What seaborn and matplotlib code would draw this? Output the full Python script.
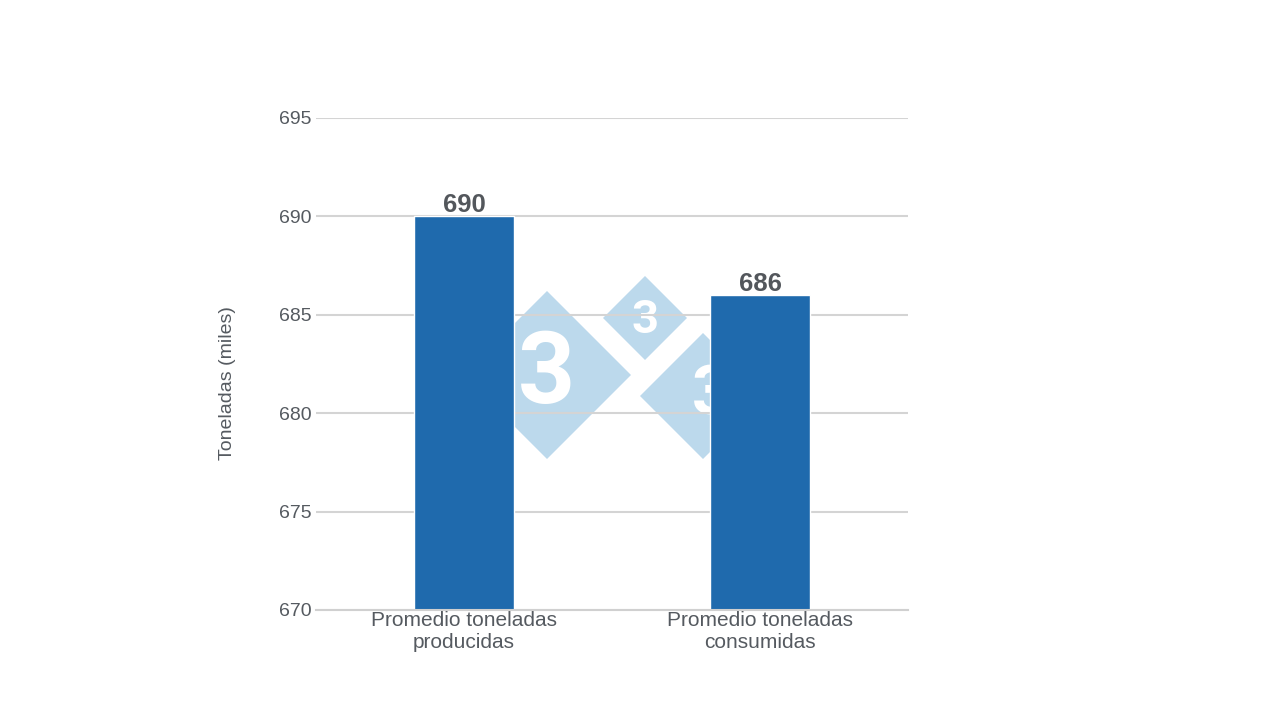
import matplotlib
matplotlib.use("Agg")
import matplotlib.pyplot as plt
import seaborn as sns
import pandas as pd
from matplotlib.patches import Polygon

categories = ["Promedio toneladas\nproducidas", "Promedio toneladas\nconsumidas"]
values = [690, 686]
yticks = [670, 675, 680, 685, 690, 695]

sns.set_theme(style="white")
plt.rcParams['font.family'] = ['Liberation Sans', 'DejaVu Sans']

df = pd.DataFrame({"cat": categories, "val": values})

fig = plt.figure(figsize=(12.8, 7.2), dpi=100)
ax = fig.add_axes([316/1280, 1-610/720, (908-316)/1280, (610-118)/720])
ax.patch.set_visible(False)

ax.set_ylim(670, 695)
ax.set_yticks(yticks)
ax.yaxis.grid(True, color="#d4d4d4", linewidth=1.5)
ax.set_axisbelow(True)

sns.barplot(data=df, x="cat", y="val", color="#1f6aad", width=0.335,
            ax=ax, saturation=1)
ax.set_ylim(670, 695)
ax.set_xlim(-0.5, 1.5)

for p, v in zip(ax.patches, values):
    ax.text(p.get_x() + p.get_width()/2, v - 0.05, f"{v}", ha="center", va="bottom",
            fontsize=18.5, fontweight="bold", color="#53575c")

ax.set_xlabel("")
ax.set_ylabel("")
for s in ["top", "right", "left"]:
    ax.spines[s].set_visible(False)
ax.spines["bottom"].set_color("#d0d0d0")
ax.spines["bottom"].set_linewidth(1.5)
ax.tick_params(axis="y", length=0, labelsize=14, labelcolor="#555a60", pad=3)
ax.tick_params(axis="x", length=0, labelsize=15, labelcolor="#555a60", pad=1)
for lab in ax.get_xticklabels():
    lab.set_linespacing(1.2)

fig.text(228/1280, 1-383/720, "Toneladas (miles)", rotation=90, ha="center", va="center",
         fontsize=14, color="#555a60")

# watermark logo (behind the chart marks)
def diamond(cx, cy, r, fs, tx, ty):
    pts = [((cx)/1280, 1-(cy-r)/720), ((cx+r)/1280, 1-cy/720),
           (cx/1280, 1-(cy+r)/720), ((cx-r)/1280, 1-cy/720)]
    fig.patches.append(Polygon(pts, closed=True, transform=fig.transFigure,
                               facecolor="#bcd9ec", edgecolor="none", zorder=-2))
    t = fig.text(tx/1280, 1-ty/720, "3", ha="center", va="center", fontsize=fs,
                 fontweight="bold", color="white", family=["Roboto", "DejaVu Sans"])
    t.set_zorder(-1)

diamond(547, 375, 84, 72, 547, 375)
diamond(645, 318, 42, 34, 645, 320)
diamond(703, 396, 63, 50, 712, 396)

fig.savefig("out.png", dpi=100, facecolor="white")
